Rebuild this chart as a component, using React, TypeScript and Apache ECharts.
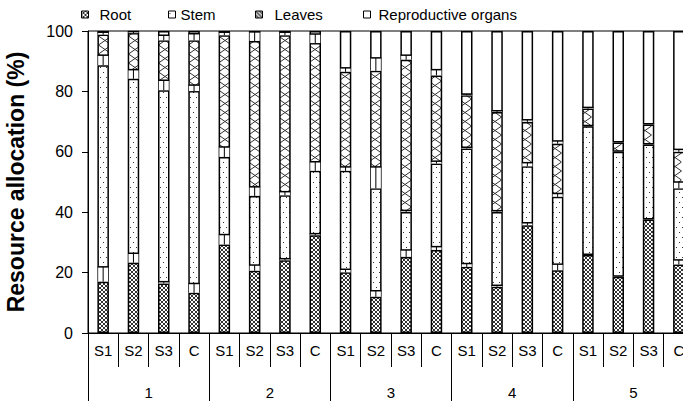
import React, { useEffect, useRef } from "react";
import * as echarts from "echarts";

const groups = ["1", "2", "3", "4", "5"];
const treatments = ["S1", "S2", "S3", "C"];
const categoryNames = groups.flatMap((g) => treatments.map((t) => `${g}-${t}`));

const seriesNames = ["Root", "Stem", "Leaves", "Reproductive organs"];

// segment values (%), per bar, in order S1,S2,S3,C for groups 1..5
const rootValues = [17.0, 23.3, 16.4, 13.3, 29.3, 20.6, 24.1, 32.4, 20.1, 12.0, 25.2, 27.5, 21.9, 15.3, 35.7, 20.8, 25.8, 18.6, 37.6, 22.7];
const stemValues = [71.7, 60.9, 64.0, 66.8, 29.0, 24.8, 21.5, 21.3, 33.6, 35.9, 14.9, 28.6, 39.2, 24.8, 19.5, 24.3, 42.7, 41.4, 24.8, 25.2];
const leavesValues = [10.1, 15.1, 16.5, 16.8, 40.3, 51.3, 53.0, 42.3, 32.8, 38.9, 50.4, 29.2, 17.6, 33.1, 14.7, 17.6, 5.8, 3.1, 6.6, 12.1];
const reproValues = [1.2, 0.7, 3.1, 3.1, 1.4, 3.3, 1.4, 4.0, 13.5, 13.2, 9.5, 14.7, 21.3, 26.8, 30.1, 37.3, 25.7, 36.9, 31.0, 40.0];

// upper error bars (%)
const rootErr = [4.9, 3.1, 0.6, 3.1, 3.3, 1.9, 0.5, 0.5, 1.0, 2.0, 2.3, 1.1, 1.1, 0.5, 0.8, 2.0, 0, 0, 0, 1.5];
const stemErr = [3.3, 3.0, 3.3, 2.0, 3.3, 3.0, 1.2, 3.0, 1.3, 7.1, 0.5, 0.8, 0.4, 0.4, 1.2, 1.1, 0, 0, 0, 2.1];
const leavesErr = [0.8, 0.5, 1.7, 2.2, 1.0, 3.0, 1.0, 3.0, 1.3, 4.3, 1.5, 1.9, 0.4, 0.4, 0.7, 0.9, 0.4, 0, 0, 0.8];

const FONT = "'Liberation Sans', Arial, sans-serif";

function makeCanvas(w: number, h: number, draw: (ctx: CanvasRenderingContext2D) => void) {
  const c = document.createElement("canvas");
  c.width = w;
  c.height = h;
  const ctx = c.getContext("2d") as CanvasRenderingContext2D;
  draw(ctx);
  return c;
}

export default function App() {
  const ref = useRef<HTMLDivElement>(null);

  useEffect(() => {
    document.body.style.margin = "0";
    if (!ref.current) return;
    const chart = echarts.init(ref.current, null, { renderer: "svg" });

    const gridLeft = 88;
    const gridWidth = 606;
    const catW = gridWidth / categoryNames.length;

    // Root: fine dark cross-hatch
    const rootTile = makeCanvas(4, 4, (ctx) => {
      ctx.fillStyle = "#fff";
      ctx.fillRect(0, 0, 4, 4);
      ctx.fillStyle = "#333";
      for (let x = 0; x < 4; x++)
        for (let y = 0; y < 4; y++) if (x === y || x + y === 3) ctx.fillRect(x, y, 1, 1);
    });
    // Stem: sparse staggered dots
    const stemTile = makeCanvas(6, 10, (ctx) => {
      ctx.fillStyle = "#fff";
      ctx.fillRect(0, 0, 6, 10);
      ctx.fillStyle = "#333";
      ctx.fillRect(1, 2, 1, 1);
      ctx.fillRect(4, 7, 1, 1);
    });
    // Leaves: X lattice aligned to each bar (tile = one category wide)
    const leavesTile = makeCanvas(30, 18, (ctx) => {
      ctx.fillStyle = "#fff";
      ctx.fillRect(0, 0, 30, 18);
      ctx.strokeStyle = "#333";
      ctx.lineWidth = 1;
      const L = 8.5, R = 21.5;
      ctx.beginPath();
      ctx.moveTo(L, 0); ctx.lineTo(R, 9); ctx.lineTo(L, 18);
      ctx.moveTo(R, 0); ctx.lineTo(L, 9); ctx.lineTo(R, 18);
      ctx.stroke();
    });
    const leavesLegendTile = makeCanvas(4, 4, (ctx) => {
      ctx.fillStyle = "#bbb";
      ctx.fillRect(0, 0, 4, 4);
      ctx.fillStyle = "#222";
      for (let x = 0; x < 4; x++) ctx.fillRect(x, x, 1, 1);
    });

    const rootPattern: any = { image: rootTile, repeat: "repeat", imageWidth: 4, imageHeight: 4 };
    const stemPattern: any = { image: stemTile, repeat: "repeat", imageWidth: 6, imageHeight: 10 };
    const leavesPattern: any = {
      image: leavesTile, repeat: "repeat", imageWidth: 30, imageHeight: 18,
      x: gridLeft, y: 0, scaleX: catW / 30, scaleY: 1,
    };
    const leavesLegendPattern: any = { image: leavesLegendTile, repeat: "repeat", imageWidth: 4, imageHeight: 4 };

    const fills = [rootPattern, stemPattern, leavesPattern, "#fff"];
    const values = [rootValues, stemValues, leavesValues, reproValues];

    const errData: number[][] = [];
    categoryNames.forEach((_, i) => {
      const t1 = rootValues[i];
      const t2 = t1 + stemValues[i];
      const t3 = t2 + leavesValues[i];
      if (rootErr[i] > 0) errData.push([i, t1, t1 + rootErr[i]]);
      if (stemErr[i] > 0) errData.push([i, t2, t2 + stemErr[i]]);
      if (leavesErr[i] > 0) errData.push([i, t3, t3 + leavesErr[i]]);
    });

    const legendIcons = [rootPattern, stemPattern, leavesLegendPattern, "#fff"];
    const legendLefts = [76, 163, 250, 358];
    const legendPads = [6, 0, 7, 3];

    const option: any = {
      animation: false,
      textStyle: { fontFamily: FONT, color: "#000" },
      legend: seriesNames.map((n, k) => ({
        data: [{ name: n, itemStyle: { color: legendIcons[k], borderColor: "#000", borderWidth: 1 } }],
        left: legendLefts[k],
        top: 2,
        icon: "rect",
        itemWidth: 7,
        itemHeight: 7,
        selectedMode: false,
        textStyle: { fontSize: 15, color: "#000", fontFamily: FONT, padding: [0, 0, 0, legendPads[k]] },
      })),
      grid: {
        left: gridLeft, top: 31, width: gridWidth, height: 302,
        outerBoundsMode: "none",
        containLabel: false,
        show: true, borderColor: "#000", borderWidth: 1, backgroundColor: "transparent",
      },
      xAxis: [
        {
          type: "category",
          data: categoryNames,
          position: "bottom",
          axisLine: { show: true, lineStyle: { color: "#000", width: 1 } },
          axisTick: { show: true, interval: 0, length: 34, lineStyle: { color: "#000", width: 1 } },
          axisLabel: {
            interval: 0, margin: 10, fontSize: 15, color: "#000", fontFamily: FONT,
            hideOverlap: false,
            formatter: (v: string) => v.split("-")[1],
          },
        },
        {
          type: "category",
          data: groups,
          position: "bottom",
          axisLine: { show: false },
          axisTick: { show: true, interval: 0, length: 68, lineStyle: { color: "#000", width: 1 } },
          axisLabel: { interval: 0, margin: 52, fontSize: 15, color: "#000", fontFamily: FONT },
        },
      ],
      yAxis: {
        type: "value",
        min: 0,
        max: 100,
        interval: 20,
        axisLine: { show: true, lineStyle: { color: "#000", width: 1 } },
        axisTick: { show: true, length: 6, lineStyle: { color: "#000" } },
        splitLine: { show: false },
        axisLabel: { fontSize: 16, color: "#000", margin: 15, fontFamily: FONT },
        name: "Resource allocation (%)",
        nameLocation: "middle",
        nameGap: 61,
        nameTextStyle: { fontSize: 23, fontWeight: "bold", color: "#000", fontFamily: FONT },
      },
      series: [
        ...seriesNames.map((n, k) => ({
          name: n,
          type: "bar",
          stack: "total",
          xAxisIndex: 0,
          yAxisIndex: 0,
          barWidth: 11.5,
          data: values[k],
          itemStyle: { color: fills[k], borderColor: "#000", borderWidth: 1.5 },
          emphasis: { disabled: true },
        })),
        {
          type: "custom",
          xAxisIndex: 0,
          yAxisIndex: 0,
          z: 5,
          silent: true,
          encode: { x: 0, y: [1, 2] },
          data: errData,
          renderItem: (params: any, api: any) => {
            const idx = api.value(0);
            const lo = api.value(1);
            const hi = api.value(2);
            const p0 = api.coord([idx, lo]);
            const p1 = api.coord([idx, hi]);
            const hw = 5;
            return {
              type: "group",
              children: [
                { type: "rect", shape: { x: p0[0] - hw, y: p1[1], width: hw * 2, height: p0[1] - p1[1] }, style: { fill: "#fff" } },
                { type: "line", shape: { x1: p0[0], y1: p0[1], x2: p1[0], y2: p1[1] }, style: { stroke: "#000", lineWidth: 1 } },
                { type: "line", shape: { x1: p1[0] - 5.5, y1: p1[1], x2: p1[0] + 5.5, y2: p1[1] }, style: { stroke: "#000", lineWidth: 1.5 } },
              ],
            };
          },
        },
      ],
    };

    chart.setOption(option);
    return () => chart.dispose();
  }, []);

  return <div ref={ref} style={{ width: 683, height: 402 }} />;
}
